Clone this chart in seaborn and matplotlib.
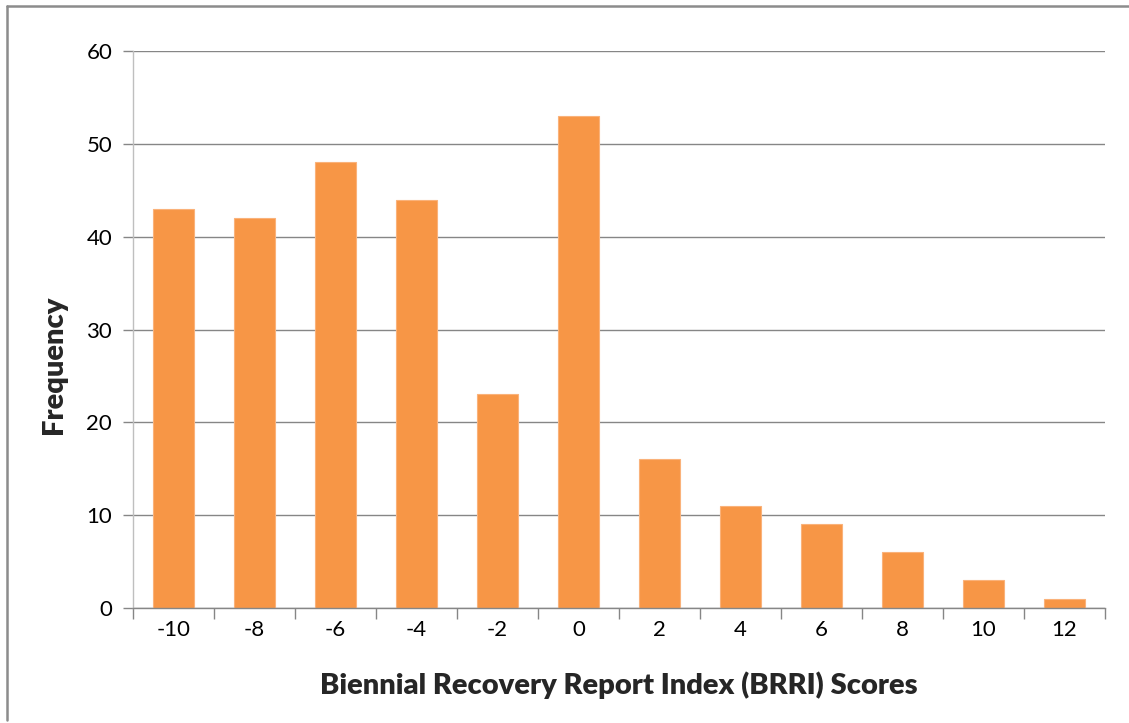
import matplotlib
matplotlib.use("Agg")
import matplotlib.pyplot as plt
import seaborn as sns
import pandas as pd
from matplotlib.lines import Line2D

# data
scores = ["-10", "-8", "-6", "-4", "-2", "0", "2", "4", "6", "8", "10", "12"]
frequency = [43, 42, 48, 44, 23, 53, 16, 11, 9, 6, 3, 1]
y_ticks = [0, 10, 20, 30, 40, 50, 60]

df = pd.DataFrame({"score": scores, "freq": frequency})

sns.set_style("white")
plt.rcParams["font.family"] = ["Lato", "DejaVu Sans"]

grey = "#868686"
fig = plt.figure(figsize=(11.29, 7.23), dpi=100)
ax = fig.add_axes([133 / 1129, 1 - 608 / 723, (1105 - 133) / 1129, (608 - 51) / 723])

sns.barplot(data=df, x="score", y="freq", order=scores, color="#F79646",
            width=0.5, saturation=1, edgecolor="#FAB27A", linewidth=0.8, ax=ax)

ax.set_ylim(0, 60)
ax.set_xlim(-0.5, len(scores) - 0.5)
ax.set_yticks(y_ticks)
ax.yaxis.grid(True, color=grey, linewidth=1)
ax.set_axisbelow(True)

# category ticks sit between the bars, like Excel
ax.set_xticks(range(len(scores)))
ax.set_xticklabels(scores)
ax.set_xticks([i - 0.5 for i in range(len(scores) + 1)], minor=True)
ax.tick_params(axis="x", which="major", length=0, pad=9, labelsize=16, colors="black")
ax.tick_params(axis="x", which="minor", length=8, width=1, color=grey, direction="out")
ax.tick_params(axis="y", length=7, width=1, color=grey, pad=8, labelsize=16, colors="black")
ax.tick_params(axis="x", bottom=True, which="both")
ax.tick_params(axis="y", left=True)

for side in ["top", "right"]:
    ax.spines[side].set_visible(False)
ax.spines["left"].set_color("#BFBFBF")
ax.spines["bottom"].set_color(grey)
ax.spines["left"].set_linewidth(1)
ax.spines["bottom"].set_linewidth(1)

ax.set_xlabel("Biennial Recovery Report Index (BRRI) Scores", fontsize=21,
              fontweight="heavy", labelpad=22)
ax.set_ylabel("Frequency", fontsize=21, fontweight="heavy")
ax.yaxis.set_label_coords(-0.068, 0.436)

# outer chart frame (left and top edges visible)
fig.add_artist(Line2D([7 / 1129, 7 / 1129], [1 - 720 / 723, 1 - 6 / 723],
                      color="#8C8C8C", linewidth=1.8, transform=fig.transFigure))
fig.add_artist(Line2D([7 / 1129, 1], [1 - 6 / 723, 1 - 6 / 723],
                      color="#8C8C8C", linewidth=1.8, transform=fig.transFigure))

fig.savefig("out.png", dpi=100)
